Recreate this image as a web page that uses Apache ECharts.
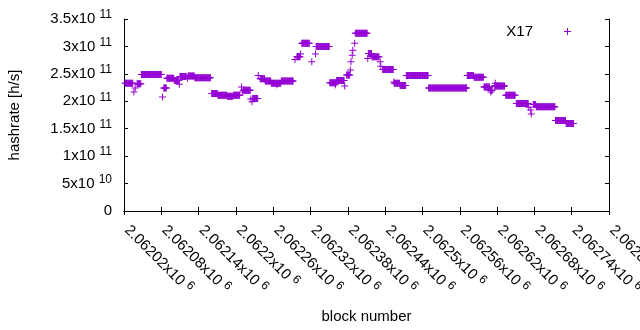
<!DOCTYPE html>
<html>
<head>
<meta charset="utf-8">
<script src="https://cdn.jsdelivr.net/npm/echarts@6/dist/echarts.min.js"></script>
<style>
html, body { margin: 0; padding: 0; background: #fff; }
#chart { width: 640px; height: 330px; }
</style>
</head>
<body>
<div id="chart"></div>
<script>
// runs of consecutive blocks with the same hashrate
// (a run with start == end is a single point)
var runStart = [
  2062022, 2062036, 2062038, 2062041, 2062048, 2062082, 2062084, 2062089, 2062101, 2062109,
  2062110, 2062122, 2062123, 2062134, 2062161, 2062171, 2062186, 2062196, 2062209, 2062211,
  2062212, 2062224, 2062226, 2062227, 2062236, 2062239, 2062247, 2062257, 2062266, 2062273,
  2062295, 2062298, 2062304, 2062306, 2062322, 2062328, 2062329, 2062351, 2062360, 2062362,
  2062375, 2062378, 2062384, 2062385, 2062387, 2062388, 2062391, 2062392, 2062412, 2062413,
  2062419, 2062432, 2062433, 2062436, 2062454, 2062455, 2062464, 2062474, 2062510, 2062572,
  2062583, 2062599, 2062609, 2062610, 2062617, 2062616, 2062634, 2062651, 2062671, 2062674,
  2062675, 2062678, 2062683, 2062714, 2062731
];
var runEnd = [
  2062034, 2062036, 2062038, 2062047, 2062080, 2062082, 2062088, 2062100, 2062108, 2062109,
  2062120, 2062122, 2062133, 2062159, 2062170, 2062185, 2062195, 2062206, 2062209, 2062211,
  2062223, 2062224, 2062226, 2062235, 2062236, 2062246, 2062256, 2062272, 2062266, 2062292,
  2062295, 2062303, 2062304, 2062318, 2062322, 2062328, 2062350, 2062361, 2062360, 2062374,
  2062375, 2062383, 2062384, 2062385, 2062387, 2062388, 2062391, 2062411, 2062412, 2062418,
  2062430, 2062432, 2062433, 2062453, 2062454, 2062463, 2062473, 2062509, 2062571, 2062582,
  2062598, 2062608, 2062612, 2062610, 2062617, 2062632, 2062649, 2062670, 2062671, 2062674,
  2062675, 2062682, 2062713, 2062730, 2062743
];
var runHashrate = [
  2.33e11, 2.17e11, 2.24e11, 2.32e11, 2.49e11, 2.08e11, 2.24e11, 2.42e11, 2.38e11, 2.31e11,
  2.45e11, 2.42e11, 2.46e11, 2.43e11, 2.14e11, 2.11e11, 2.09e11, 2.11e11, 2.26e11, 2.17e11,
  2.20e11, 2.04e11, 1.99e11, 2.05e11, 2.47e11, 2.41e11, 2.37e11, 2.33e11, 2.30e11, 2.37e11,
  2.76e11, 2.81e11, 2.86e11, 3.06e11, 2.72e11, 2.86e11, 3.00e11, 2.34e11, 2.30e11, 2.38e11,
  2.28e11, 2.48e11, 2.57e11, 2.72e11, 2.84e11, 2.93e11, 3.06e11, 3.24e11, 2.78e11, 2.87e11,
  2.81e11, 2.72e11, 2.64e11, 2.58e11, 2.35e11, 2.33e11, 2.29e11, 2.47e11, 2.24e11, 2.47e11,
  2.44e11, 2.26e11, 2.20e11, 2.17e11, 2.33e11, 2.28e11, 2.11e11, 1.96e11, 1.89e11, 1.84e11,
  1.77e11, 1.94e11, 1.90e11, 1.65e11, 1.595e11
];

var seriesName = "X17";
var xMin = 2062020, xMax = 2062800, xStep = 60;
var yMin = 0, yMax = 3.5e11, yStep = 0.5e11;

var plusIcon = "path://M0,3h7v1h-7z M3,0h1v7h-1z";
var purple = "#9400d3";
var font = "Liberation Sans";

// one point per block
var points = [];
for (var i = 0; i < runStart.length; i++) {
  for (var b = runStart[i]; b <= runEnd[i]; b++) {
    points.push([b, runHashrate[i]]);
  }
}

var rich = {
  m: { fontSize: 15, fontFamily: font, color: "#000" },
  s: { fontSize: 12, fontFamily: font, color: "#000", padding: [0, 0, 8, 0] }
};

function xLabel(v) {
  return "{m|" + Number((v / 1e6).toFixed(5)) + "x10} {s|6}";
}
function yLabel(v) {
  if (v === 0) return "{m|0}";
  var e = Math.floor(Math.log10(v) + 1e-9);
  var m = Number((v / Math.pow(10, e)).toFixed(2));
  return "{m|" + m + "x10} {s|" + e + "}";
}

var tick = { show: true, inside: true, length: 4, lineStyle: { color: "#000" } };
var line = { show: true, lineStyle: { color: "#000", width: 1 } };

var chart = echarts.init(document.getElementById("chart"));
chart.setOption({
  animation: false,
  textStyle: { fontFamily: font, fontSize: 15, color: "#000" },
  grid: { left: 124, top: 19, width: 485, height: 192, containLabel: false, outerBoundsMode: "none" },
  legend: {
    data: [{ name: seriesName, itemStyle: { color: purple, borderColor: purple, borderWidth: 0 } }],
    right: 69,
    top: 24,
    padding: 0,
    align: "right",
    itemWidth: 59,
    itemHeight: 7,
    itemGap: 0,
    selectedMode: false,
    itemStyle: { color: purple, borderColor: purple, borderWidth: 0 },
    textStyle: { fontSize: 15, fontFamily: font, color: "#000" }
  },
  xAxis: [
    {
      type: "value", min: xMin, max: xMax, interval: xStep,
      name: "block number", nameLocation: "middle", nameGap: 98,
      nameTextStyle: { fontSize: 15, fontFamily: font, color: "#000" },
      axisLine: line, axisTick: tick, splitLine: { show: false },
      axisLabel: {
        rotate: -45, margin: 14, padding: [0, 0, 0, 4],
        formatter: xLabel, rich: rich, fontSize: 15, color: "#000"
      }
    },
    {
      type: "value", position: "top", min: xMin, max: xMax, interval: xStep,
      axisLine: line, axisTick: tick, splitLine: { show: false },
      axisLabel: { show: false }
    }
  ],
  yAxis: [
    {
      type: "value", min: yMin, max: yMax, interval: yStep,
      name: "hashrate [h/s]", nameLocation: "middle", nameGap: 102,
      nameTextStyle: { fontSize: 15, fontFamily: font, color: "#000" },
      axisLine: line, axisTick: tick, splitLine: { show: false },
      axisLabel: { margin: 12, formatter: yLabel, rich: rich, fontSize: 15, color: "#000" }
    },
    {
      type: "value", position: "right", min: yMin, max: yMax, interval: yStep,
      axisLine: line, axisTick: tick, splitLine: { show: false },
      axisLabel: { show: false }
    }
  ],
  series: [
    {
      name: seriesName,
      type: "scatter",
      xAxisIndex: 0,
      yAxisIndex: 0,
      symbol: plusIcon,
      legendIcon: plusIcon,
      symbolSize: 7,
      itemStyle: { color: purple, borderColor: purple, borderWidth: 0, opacity: 1 },
      emphasis: { disabled: true },
      data: points
    }
  ]
});
</script>
</body>
</html>
